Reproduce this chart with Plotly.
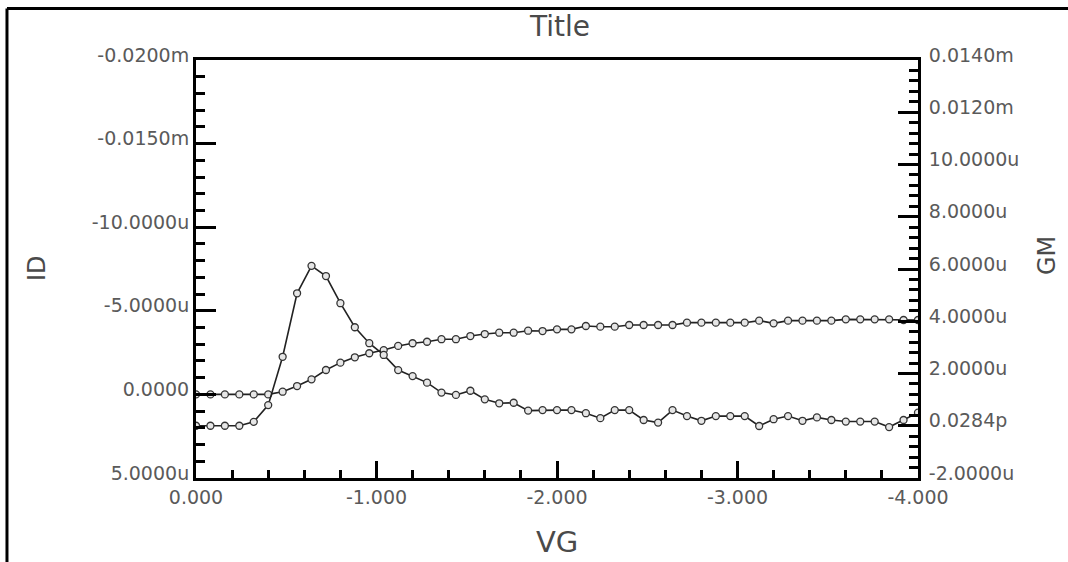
import plotly.graph_objects as go

# Gate-voltage sweep (V)
vg = [0.00, -0.08, -0.16, -0.24, -0.32, -0.40, -0.48, -0.56, -0.64, -0.72,
      -0.80, -0.88, -0.96, -1.04, -1.12, -1.20, -1.28, -1.36, -1.44, -1.52,
      -1.60, -1.68, -1.76, -1.84, -1.92, -2.00, -2.08, -2.16, -2.24, -2.32,
      -2.40, -2.48, -2.56, -2.64, -2.72, -2.80, -2.88, -2.96, -3.04, -3.12,
      -3.20, -3.28, -3.36, -3.44, -3.52, -3.60, -3.68, -3.76, -3.84, -3.92,
      -4.00]

# Drain current ID (uA)
id_ua = [0.00, 0.00, 0.00, 0.00, 0.00, 0.00, -0.16, -0.50, -0.90, -1.46,
         -1.90, -2.22, -2.46, -2.65, -2.90, -3.06, -3.15, -3.30, -3.30, -3.49,
         -3.61, -3.69, -3.69, -3.81, -3.79, -3.89, -3.89, -4.09, -4.05, -4.05,
         -4.15, -4.15, -4.15, -4.15, -4.29, -4.29, -4.29, -4.29, -4.29, -4.41,
         -4.25, -4.41, -4.41, -4.41, -4.41, -4.49, -4.49, -4.49, -4.49, -4.45,
         -4.45]

# Transconductance GM (uS)
gm_us = [0.00, 0.00, 0.00, 0.00, 0.15, 0.79, 2.64, 5.07, 6.12, 5.73,
         4.69, 3.77, 3.16, 2.71, 2.13, 1.90, 1.65, 1.27, 1.18, 1.34,
         1.01, 0.86, 0.88, 0.58, 0.60, 0.60, 0.60, 0.48, 0.29, 0.60,
         0.60, 0.22, 0.12, 0.60, 0.37, 0.19, 0.37, 0.37, 0.37, -0.01,
         0.25, 0.37, 0.19, 0.32, 0.22, 0.16, 0.16, 0.16, -0.05, 0.22,
         0.50]

# Axis tick labels
x_tickvals = [0, -1, -2, -3, -4]
x_ticktext = ["0.000", "-1.000", "-2.000", "-3.000", "-4.000"]
id_tickvals = [-20, -15, -10, -5, 0, 5]
id_ticktext = ["-0.0200m", "-0.0150m", "-10.0000u", "-5.0000u", "0.0000", "5.0000u"]
gm_tickvals = [14, 12, 10, 8, 6, 4, 2, 0, -2]
gm_ticktext = ["0.0140m", "0.0120m", "10.0000u", "8.0000u", "6.0000u",
               "4.0000u", "2.0000u", "0.0284p", "-2.0000u"]

FONT = "DejaVu Sans"
LABEL_GRAY = "#5a5a5a"
TEXT_GRAY = "#4a4a4a"

marker_style = dict(symbol="circle", size=7, color="#e6e6e6",
                    line=dict(color="#333333", width=1.3))
line_style = dict(color="#222222", width=1.6)

fig = go.Figure()
fig.add_trace(go.Scatter(x=vg, y=id_ua, mode="lines+markers", name="ID",
                         line=line_style, marker=marker_style, yaxis="y"))
fig.add_trace(go.Scatter(x=vg, y=gm_us, mode="lines+markers", name="GM",
                         line=line_style, marker=marker_style, yaxis="y2"))

axis_common = dict(showgrid=False, zeroline=False, showline=True,
                   linecolor="black", linewidth=3, ticks="inside",
                   tickcolor="black", tickwidth=2.5,
                   tickfont=dict(family=FONT, size=19, color=LABEL_GRAY))

fig.update_layout(
    width=1068, height=562,
    margin=dict(l=196, r=150, t=60, b=84),
    paper_bgcolor="white", plot_bgcolor="white",
    showlegend=False,
    xaxis=dict(range=[0, -4], tickvals=x_tickvals, ticktext=x_ticktext,
               ticklen=17, mirror=True,
               minor=dict(ticks="inside", dtick=0.2, tick0=0, ticklen=8,
                          tickwidth=2.5, tickcolor="black"),
               **axis_common),
    yaxis=dict(range=[5, -20], tickvals=id_tickvals, ticktext=id_ticktext,
               ticklen=20, ticklabelshift=5,
               minor=dict(ticks="inside", dtick=1, tick0=0, ticklen=9,
                          tickwidth=2.5, tickcolor="black"),
               **axis_common),
    yaxis2=dict(range=[-2, 14], tickvals=gm_tickvals, ticktext=gm_ticktext,
                overlaying="y", side="right", ticklen=20, ticklabelshift=-5,
                ticklabelstandoff=4,
                minor=dict(ticks="inside", dtick=0.4, tick0=0, ticklen=9,
                           tickwidth=2.5, tickcolor="black"),
                **axis_common),
)

# Title and axis titles
text_kw = dict(xref="paper", yref="paper", showarrow=False,
               xanchor="center", yanchor="middle")
fig.add_annotation(text="Title", x=0.504, y=1.079,
                   font=dict(family=FONT, size=28, color=TEXT_GRAY), **text_kw)
fig.add_annotation(text="VG", x=0.5, y=-0.152,
                   font=dict(family=FONT, size=29, color=TEXT_GRAY), **text_kw)
fig.add_annotation(text="ID", x=-0.2202, y=0.5024, textangle=-90,
                   font=dict(family=FONT, size=24, color=TEXT_GRAY), **text_kw)
fig.add_annotation(text="GM", x=1.1787, y=0.531, textangle=-90,
                   font=dict(family=FONT, size=24, color=TEXT_GRAY), **text_kw)

# Outer frame (top and left edges)
fig.add_shape(type="line", xref="paper", yref="paper",
              x0=-0.2618, y0=1.1232, x1=1.2078, y1=1.1232,
              line=dict(color="black", width=3))
fig.add_shape(type="line", xref="paper", yref="paper",
              x0=-0.2618, y0=1.1232, x1=-0.2618, y1=-0.201,
              line=dict(color="black", width=3))

fig.write_html("out.html", config={"displayModeBar": False})
